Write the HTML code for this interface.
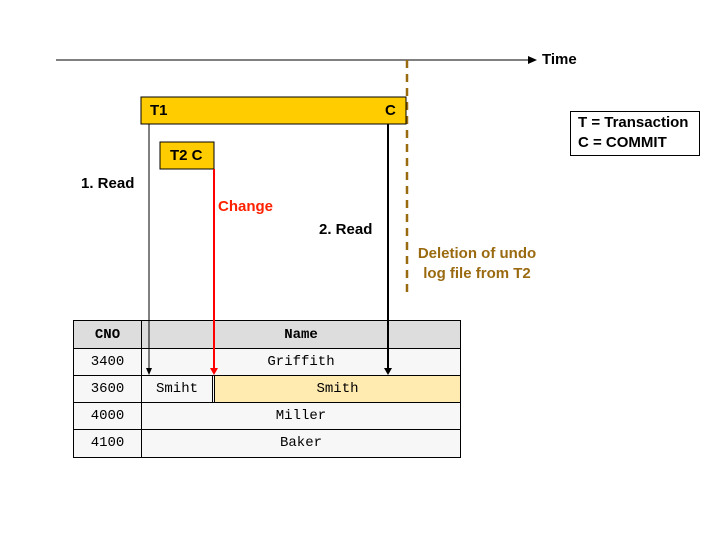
<!DOCTYPE html>
<html><head><style>
body{margin:0;width:720px;height:540px;background:#fff;position:relative;font-family:"Liberation Sans",sans-serif;overflow:hidden}
.a{position:absolute}
.t{font-weight:bold;font-size:15px}
.m{font-family:"Liberation Mono",monospace;font-size:14px;text-align:center;position:absolute}
</style></head><body>
<svg class="a" style="left:0;top:0" width="720" height="540">
<line x1="56" y1="60" x2="530" y2="60" stroke="#000" stroke-width="1"/>
<polygon points="537,60 528,56 528,64" fill="#000"/>
<line x1="407" y1="60" x2="407" y2="292" stroke="#9a6a10" stroke-width="2.5" stroke-dasharray="8,6"/>
<rect x="141" y="97" width="265" height="27" fill="#ffcc00" stroke="#000"/>
<rect x="160" y="142" width="54" height="27" fill="#ffcc00" stroke="#000"/>
<rect x="570.5" y="111.5" width="129" height="44" fill="#fff" stroke="#000"/>
<!-- table -->
<rect x="73.5" y="320.5" width="387" height="137" fill="#f7f7f7" stroke="#000"/>
<rect x="74" y="321" width="386" height="27" fill="#dddddd"/>
<rect x="215" y="375" width="245" height="27" fill="#ffeab0"/>
<g stroke="#000" stroke-width="1">
<line x1="73" y1="348.5" x2="460" y2="348.5"/>
<line x1="73" y1="375.5" x2="460" y2="375.5"/>
<line x1="73" y1="402.5" x2="460" y2="402.5"/>
<line x1="73" y1="429.5" x2="460" y2="429.5"/>
<line x1="141.5" y1="320" x2="141.5" y2="457"/>
<line x1="212.5" y1="375" x2="212.5" y2="402"/>
<line x1="214.5" y1="375" x2="214.5" y2="402"/>
</g>
<line x1="149" y1="124" x2="149" y2="370" stroke="#000" stroke-width="1"/>
<polygon points="149,375 146,368 152,368" fill="#000"/>
<line x1="214" y1="169" x2="214" y2="370" stroke="#ff0000" stroke-width="2"/>
<polygon points="214,375 210,368 218,368" fill="#ff0000"/>
<line x1="388" y1="124" x2="388" y2="370" stroke="#000" stroke-width="2"/>
<polygon points="388,375 384,368 392,368" fill="#000"/>
</svg>
<div class="a t" style="left:542px;top:51px">Time</div>
<div class="a t" style="left:150px;top:102px">T1</div>
<div class="a t" style="left:385px;top:102px">C</div>
<div class="a t" style="left:170px;top:147px">T2 C</div>
<div class="a t" style="left:81px;top:175px">1. Read</div>
<div class="a t" style="left:218px;top:198px;color:#ff2000">Change</div>
<div class="a t" style="left:319px;top:221px">2. Read</div>
<div class="a t" style="left:412px;top:244px;color:#9a6a10;text-align:center;width:130px;line-height:20px">Deletion of undo<br>log file from T2</div>
<div class="a t" style="left:578px;top:113px;line-height:20px">T = Transaction<br>C = COMMIT</div>
<div class="m" style="left:74px;top:327px;width:67px;font-weight:bold">CNO</div>
<div class="m" style="left:142px;top:327px;width:318px;font-weight:bold">Name</div>
<div class="m" style="left:74px;top:354px;width:67px">3400</div>
<div class="m" style="left:142px;top:354px;width:318px">Griffith</div>
<div class="m" style="left:74px;top:381px;width:67px">3600</div>
<div class="m" style="left:142px;top:381px;width:70px">Smiht</div>
<div class="m" style="left:215px;top:381px;width:245px">Smith</div>
<div class="m" style="left:74px;top:408px;width:67px">4000</div>
<div class="m" style="left:142px;top:408px;width:318px">Miller</div>
<div class="m" style="left:74px;top:435px;width:67px">4100</div>
<div class="m" style="left:142px;top:435px;width:318px">Baker</div>
</body></html>
